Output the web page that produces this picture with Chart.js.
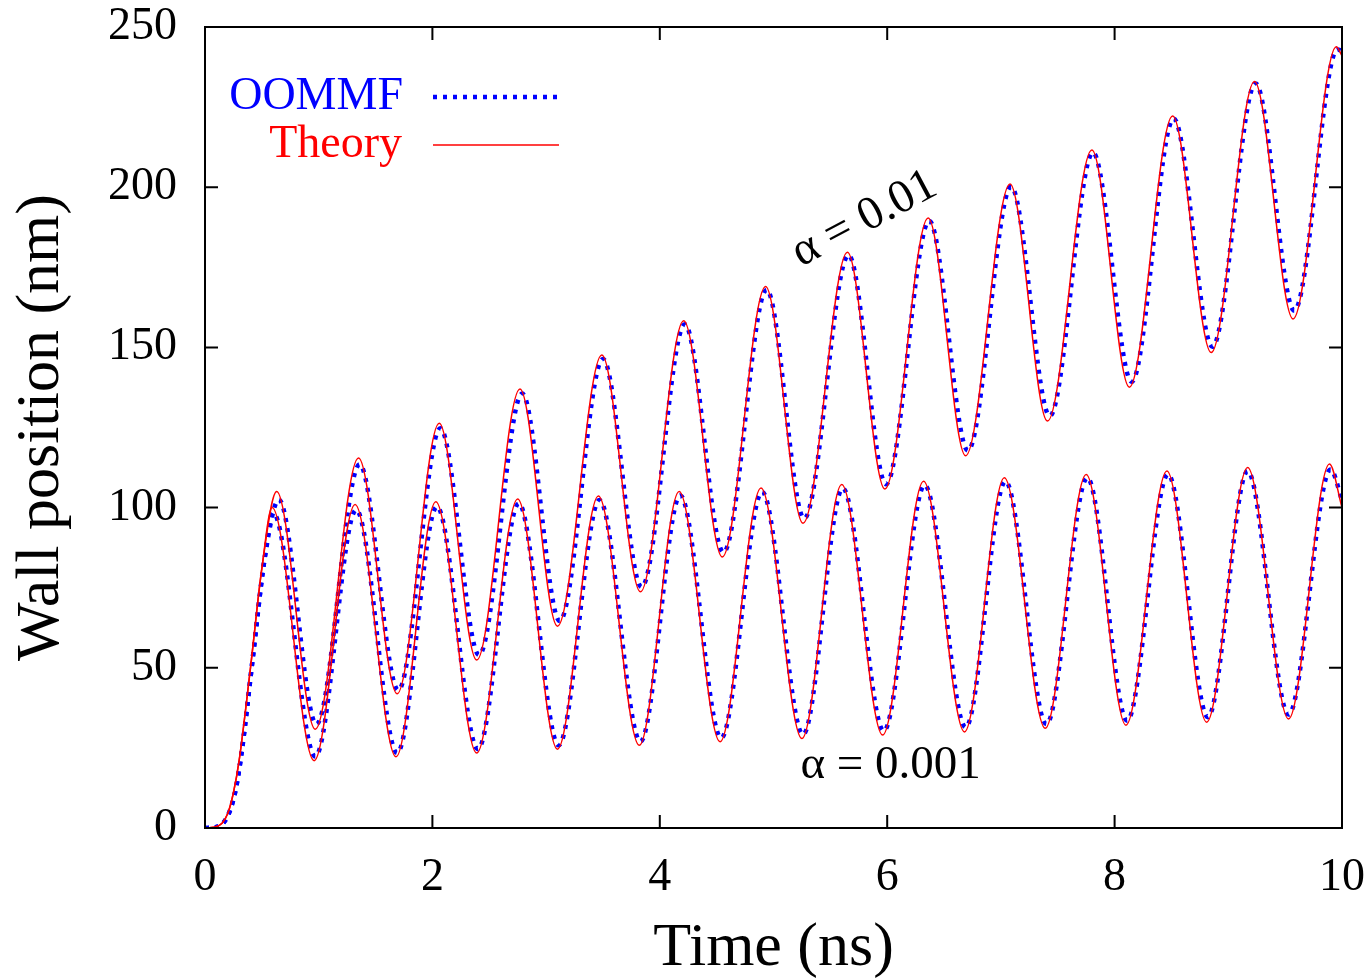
<!DOCTYPE html>
<html>
<head>
<meta charset="utf-8">
<script src="https://cdn.jsdelivr.net/npm/chart.js@4.4.1/dist/chart.umd.min.js"></script>
<style>
  html, body { margin: 0; padding: 0; background: #fff; }
</style>
</head>
<body>
<canvas id="wallChart" width="1370" height="980"></canvas>
<script>
// values: time in ns, wall position in nm
const theoryTimeHigh = [0, 0.08, 0.15, 0.2, 0.25, 0.3, 0.4, 0.5, 0.63, 0.97, 1.35, 1.69, 2.06, 2.39, 2.77, 3.1, 3.49, 3.83, 4.21, 4.55, 4.93, 5.26, 5.65, 5.98, 6.36, 6.69, 7.08, 7.41, 7.8, 8.13, 8.51, 8.85, 9.23, 9.57, 9.95, 10];
const theoryPosHigh = [0, 0.2, 1.5, 4.5, 11, 21, 50, 81, 105, 30.8, 115.5, 41.9, 126.3, 52.4, 137, 63, 147.6, 73.7, 158.3, 84.6, 169, 95.1, 179.7, 105.8, 190.4, 116.2, 201, 127, 211.6, 137.6, 222.2, 148.4, 233, 158.9, 243.8, 241];

const theoryTimeLow = [0, 0.08, 0.15, 0.2, 0.25, 0.3, 0.4, 0.5, 0.59, 0.96, 1.32, 1.68, 2.03, 2.39, 2.75, 3.1, 3.46, 3.82, 4.17, 4.53, 4.89, 5.25, 5.6, 5.96, 6.32, 6.68, 7.03, 7.39, 7.75, 8.1, 8.46, 8.81, 9.17, 9.53, 9.89, 10];
const theoryPosLow = [0, 0.2, 1.5, 4.5, 11, 21, 50, 81, 100, 21, 101, 22.2, 101.8, 23.4, 102.7, 24.6, 103.6, 25.8, 105, 26.9, 106.1, 27.9, 107.2, 29, 108.2, 30, 109.3, 31.1, 110.3, 32.1, 111.4, 33, 112.5, 34, 113.6, 100];

const oommfTimeHigh = [0, 0.1, 0.17, 0.22, 0.27, 0.32, 0.42, 0.52, 0.65, 0.98, 1.36, 1.7, 2.07, 2.41, 2.79, 3.12, 3.5, 3.84, 4.22, 4.56, 4.94, 5.27, 5.66, 5.99, 6.37, 6.71, 7.09, 7.43, 7.81, 8.15, 8.52, 8.86, 9.24, 9.58, 9.96, 10];
const oommfPosHigh = [0, 0.3, 2, 5.5, 12, 23, 53, 83, 102.5, 32.4, 113.5, 43, 124.8, 54, 135.6, 64.6, 146.4, 75.2, 157.2, 86, 168, 96.6, 178.8, 107.3, 189.5, 117.8, 200.2, 128.6, 210.8, 139.3, 221.4, 150.2, 232.4, 161.5, 243, 242.5];

const oommfTimeLow = [0, 0.1, 0.17, 0.22, 0.27, 0.32, 0.42, 0.52, 0.6, 0.97, 1.33, 1.69, 2.04, 2.4, 2.76, 3.11, 3.47, 3.83, 4.18, 4.54, 4.9, 5.26, 5.61, 5.97, 6.33, 6.69, 7.04, 7.4, 7.76, 8.11, 8.47, 8.82, 9.17, 9.53, 9.9, 10];
const oommfPosLow = [0, 0.3, 2, 5.5, 12, 23, 53, 83, 98.3, 22.3, 99.3, 23.4, 100.3, 24.6, 101.3, 25.8, 102.4, 27, 103.8, 28.1, 104.9, 29.2, 106, 30.3, 107, 31.4, 108.2, 32.4, 109.3, 33.5, 110.4, 34.6, 111.4, 35.4, 111.9, 102.4];

const xTickValues = [0, 2, 4, 6, 8, 10];
const yTickValues = [0, 50, 100, 150, 200, 250];

const serif = "'Liberation Serif', 'DejaVu Serif', serif";

function toPoints(times, values) {
    return times.map((t, i) => ({ x: t, y: values[i] }));
}

function oommfSet(label, times, values) {
    return {
        label: label,
        data: toPoints(times, values),
        borderColor: '#0000ff',
        borderWidth: 4.5,
        borderDash: [4, 6],
        borderCapStyle: 'butt',
        pointRadius: 0,
        cubicInterpolationMode: 'monotone',
        fill: false,
        order: 2
    };
}

function theorySet(label, times, values) {
    return {
        label: label,
        data: toPoints(times, values),
        borderColor: '#ff0000',
        borderWidth: 1.5,
        pointRadius: 0,
        cubicInterpolationMode: 'monotone',
        fill: false,
        order: 1
    };
}

// box, mirrored inward ticks, key and the two alpha labels
const framePlugin = {
    id: 'frame',
    afterDraw(chart) {
        const ctx = chart.ctx;
        const a = chart.chartArea;
        const x = chart.scales.x;
        const y = chart.scales.y;
        const tick = 13;

        ctx.save();
        ctx.strokeStyle = '#000';
        ctx.lineWidth = 2;
        ctx.beginPath();
        xTickValues.forEach(v => {
            const px = x.getPixelForValue(v);
            ctx.moveTo(px, a.bottom);
            ctx.lineTo(px, a.bottom - tick);
            ctx.moveTo(px, a.top);
            ctx.lineTo(px, a.top + tick);
        });
        yTickValues.forEach(v => {
            const py = y.getPixelForValue(v);
            ctx.moveTo(a.left, py);
            ctx.lineTo(a.left + tick, py);
            ctx.moveTo(a.right, py);
            ctx.lineTo(a.right - tick, py);
        });
        ctx.stroke();
        ctx.strokeRect(a.left, a.top, a.right - a.left, a.bottom - a.top);

        // key
        ctx.font = '46px ' + serif;
        ctx.textAlign = 'right';
        ctx.textBaseline = 'middle';
        ctx.fillStyle = '#0000ff';
        ctx.fillText('OOMMF', a.left + 198, a.top + 70);
        ctx.fillStyle = '#ff0000';
        ctx.fillText('Theory', a.left + 197, a.top + 118);

        ctx.lineCap = 'butt';
        ctx.strokeStyle = '#0000ff';
        ctx.lineWidth = 4.5;
        ctx.setLineDash([4, 6]);
        ctx.beginPath();
        ctx.moveTo(a.left + 228, a.top + 70);
        ctx.lineTo(a.left + 354, a.top + 70);
        ctx.stroke();
        ctx.setLineDash([]);
        ctx.strokeStyle = '#ff0000';
        ctx.lineWidth = 1.5;
        ctx.beginPath();
        ctx.moveTo(a.left + 228, a.top + 118);
        ctx.lineTo(a.left + 354, a.top + 118);
        ctx.stroke();

        // curve labels
        ctx.fillStyle = '#000';
        ctx.font = '47px ' + serif;
        ctx.textAlign = 'center';
        ctx.save();
        ctx.translate(x.getPixelForValue(5.8), y.getPixelForValue(190));
        ctx.rotate(-28 * Math.PI / 180);
        ctx.fillText('\u03b1 = 0.01', 0, 0);
        ctx.restore();
        ctx.fillText('\u03b1 = 0.001', x.getPixelForValue(6.03), y.getPixelForValue(19.5));
        ctx.restore();
    }
};

new Chart(document.getElementById('wallChart'), {
    type: 'line',
    data: {
        datasets: [
            oommfSet('OOMMF, alpha = 0.01', oommfTimeHigh, oommfPosHigh),
            oommfSet('OOMMF, alpha = 0.001', oommfTimeLow, oommfPosLow),
            theorySet('Theory, alpha = 0.01', theoryTimeHigh, theoryPosHigh),
            theorySet('Theory, alpha = 0.001', theoryTimeLow, theoryPosLow)
        ]
    },
    options: {
        responsive: false,
        animation: false,
        devicePixelRatio: 1,
        layout: { padding: { left: 0, right: 28, top: 27, bottom: 0 } },
        plugins: {
            legend: { display: false },
            tooltip: { enabled: false }
        },
        scales: {
            x: {
                type: 'linear',
                min: 0,
                max: 10,
                afterFit: s => {
                    s.height = 152;
                    s.paddingLeft = 0;
                    s.paddingRight = 0;
                },
                afterBuildTicks: s => { s.ticks = xTickValues.map(v => ({ value: v })); },
                grid: { display: false, drawTicks: false },
                border: { display: false },
                ticks: { color: '#000', padding: 22, maxRotation: 0, font: { family: serif, size: 46 } },
                title: {
                    display: true,
                    text: 'Time (ns)',
                    color: '#000',
                    padding: { top: 0, bottom: 0 },
                    font: { family: serif, size: 62, lineHeight: 1.0 }
                }
            },
            y: {
                min: 0,
                max: 250,
                afterFit: s => {
                    s.width = 205;
                    s.paddingTop = 0;
                    s.paddingBottom = 0;
                },
                afterBuildTicks: s => { s.ticks = yTickValues.map(v => ({ value: v })); },
                grid: { display: false, drawTicks: false },
                border: { display: false },
                ticks: { color: '#000', padding: 28, font: { family: serif, size: 46 } },
                title: {
                    display: true,
                    text: 'Wall position (nm)',
                    color: '#000',
                    padding: { top: 5, bottom: 0 },
                    font: { family: serif, size: 62, lineHeight: 1.2 }
                }
            }
        }
    },
    plugins: [framePlugin]
});
</script>
</body>
</html>
